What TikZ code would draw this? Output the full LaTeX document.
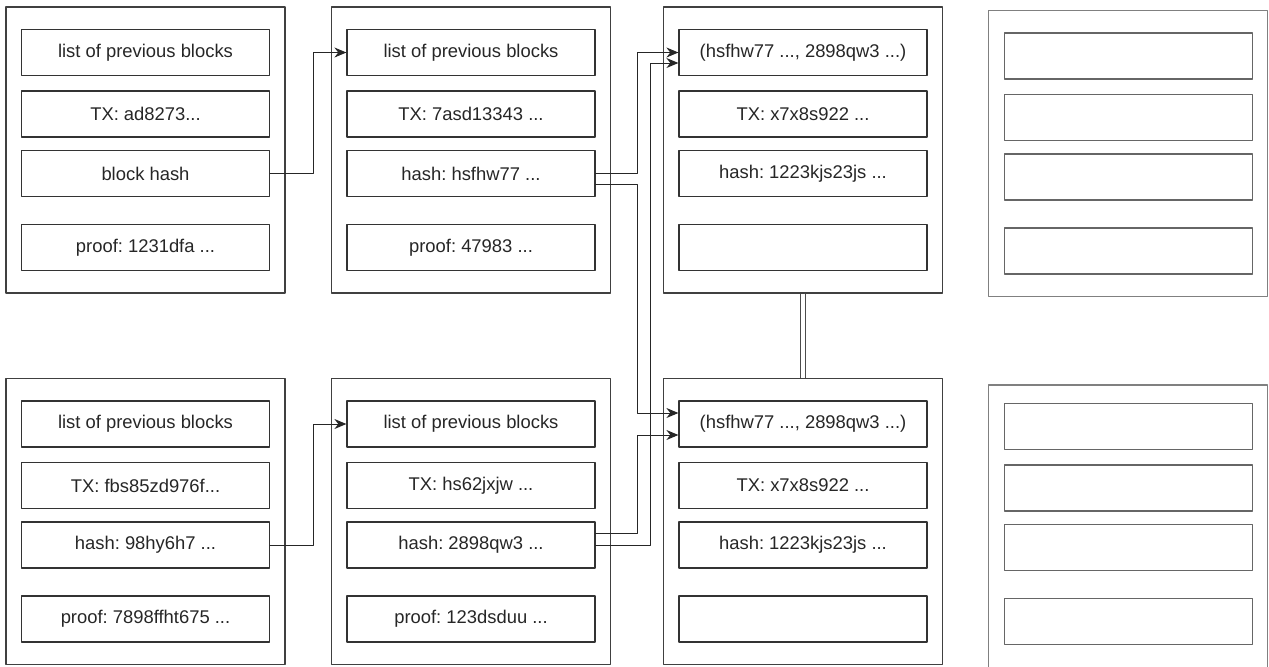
\documentclass[tikz,border=0pt]{standalone}
\usepackage{fontspec}
\setmainfont{Liberation Sans}
\usetikzlibrary{arrows.meta}
\frenchspacing

\begin{document}
\begin{tikzpicture}[x=0.5pt,y=-0.5pt,line cap=round,line join=round,>={Stealth[length=6pt,width=5pt]},
	block/.style={draw=black!75,line width=0.6pt,minimum width=139.5pt,minimum height=143pt,inner sep=0pt},
	spare/.style={block,draw=black!50},
	field/.style={draw=black!80,line width=0.6pt,minimum width=124pt,minimum height=23pt,inner sep=0pt,
		font=\fontsize{9.2}{11}\selectfont,text=black!85},
	link/.style={->,line width=0.5pt,draw=black!85}]
	\useasboundingbox (0,0) rectangle (1269,666);
	% blocks with their fields
	\foreach \n/\x/\y/\l/\t/\h/\p in {
		t1/145.5/150/{list of previous blocks}/{TX: ad8273...}/{block hash}/{proof: 1231dfa ...},
		t2/471/150/{list of previous blocks}/{TX: 7asd13343 ...}/{hash: hsfhw77 ...}/{proof: 47983 ...},
		t3/803/150/{(hsfhw77 ..., 2898qw3 ...)}/{TX: x7x8s922 ...}/{hash: 1223kjs23js ...}/{},
		b1/145.5/521.5/{list of previous blocks}/{TX: fbs85zd976f...}/{hash: 98hy6h7 ...}/{proof: 7898ffht675 ...},
		b2/471/521.5/{list of previous blocks}/{TX: hs62jxjw ...}/{hash: 2898qw3 ...}/{proof: 123dsduu ...},
		b3/803/521.5/{(hsfhw77 ..., 2898qw3 ...)}/{TX: x7x8s922 ...}/{hash: 1223kjs23js ...}/{}}{
		\node[block] (\n) at (\x,\y) {};
		\node[field] (\n-l) at (\x,\y-97.5) {\l};
		\node[field] (\n-x) at (\x,\y-36) {\t};
		\node[field] (\n-h) at (\x,\y+23.5) {\h};
		\node[field] (\n-p) at (\x,\y+97.5) {\p};
	}
	% empty blocks on the right
	\foreach \n/\b/\y in {t4/153.5/153.5,b4/528/524}{
		\node[spare] (\n) at (1128,\b) {};
		\foreach \f/\d in {l/-97.5,x/-36,h/23.5,p/97.5}
			\node[field,draw=black!60] (\n-\f) at (1128.5,\y+\d) {};
	}
	% links
	\draw[link] (t1-h.east) -- ++(43,0) |- (t2-l.west);
	\draw[link] (b1-h.east) -- ++(43,0) |- (b2-l.west);
	\draw[link] (t2-h.east) -- ++(41.5,0) |- (t3-l.west);
	\draw[link] ([yshift=-5.25pt]t2-h.east) -- ++(41.5,0) |- ([yshift=5.5pt]b3-l.west);
	\draw[link] ([yshift=6pt]b2-h.east) -- ++(41.5,0) |- ([yshift=-5.5pt]b3-l.west);
	\draw[link] (b2-h.east) -- ++(54.5,0) |- ([yshift=-5.25pt]t3-l.west);
	\draw[double,double distance=2.4pt,line width=0.5pt,line cap=butt,draw=black!70] (t3.south) -- (b3.north);
\end{tikzpicture}
\end{document}
